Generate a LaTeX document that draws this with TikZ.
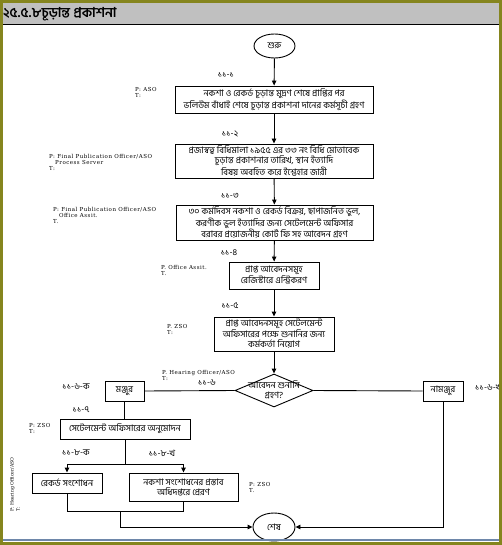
\documentclass[tikz,border=0pt]{standalone}
\usepackage{fontspec}
\usetikzlibrary{shapes.geometric,arrows.meta}
\newfontfamily\bn[Script=Bengali]{Hind Siliguri}
\newfontfamily\en[LetterSpace=9]{DejaVu Serif}
\newfontfamily\enr{DejaVu Serif}
\definecolor{olivebd}{RGB}{133,133,30}
\definecolor{hdrgray}{RGB}{192,192,192}
\definecolor{bluel}{RGB}{110,135,170}
\tikzset{
  box/.style={draw, line width=0.9pt, inner sep=0pt, align=center, font=\bn\fontsize{9}{10}\selectfont},
  dtext/.style={inner sep=0pt, align=center, font=\bn\fontsize{9}{10}\selectfont},
  term/.style={draw, ellipse, line width=0.9pt, inner sep=0pt, font=\bn\fontsize{9}{10}\selectfont},
  num/.style={inner sep=0pt, font=\bn\fontsize{8.8}{9}\selectfont},
  role/.style={inner sep=0pt, align=left, anchor=north west, font=\en\fontsize{5.5}{5.8}\selectfont},
  rrole/.style={inner sep=0pt, align=left, anchor=north west, font=\enr\fontsize{4.6}{6}\selectfont},
  flow/.style={line width=0.9pt},
  arr/.style={line width=0.9pt, -{Triangle[length=5pt,width=4.5pt]}}
}
\begin{document}
\begin{tikzpicture}[x=1pt,y=-1pt]
\useasboundingbox (0,0) rectangle (502,545);
\fill[white] (0,0) rectangle (502,545);
% header
\fill[hdrgray] (3,3) rectangle (499,25);
\draw[line width=1pt] (3,25) -- (499,25);
\node[anchor=west, inner sep=0pt, font=\bn\bfseries\fontsize{13.6}{15}\selectfont] (title) at (3,14) {২৫.৫.৮চূড়ান্ত প্রকাশনা};

% nodes
\node[term, minimum width=41pt, minimum height=24pt] (start) at (274.5,46) {শুরু};
\node[box, minimum width=198pt, minimum height=27pt] (b1) at (274,99.5) {নকশা ও রেকর্ড চূড়ান্ত মুদ্রণ শেষে প্রাপ্তির পর\\ভলিউম বাঁধাই শেষে চূড়ান্ত প্রকাশনা দানের কর্মসূচী গ্রহণ};
\node[box, minimum width=198pt, minimum height=34pt] (b2) at (274,161) {প্রজাস্বত্ব বিধিমালা ১৯৫৫ এর ৩৩ নং বিধি মোতাবেক\\চূড়ান্ত প্রকাশনার তারিখ, স্থান ইত্যাদি\\বিষয় অবহিত করে ইশ্তেহার জারী};
\node[box, minimum width=197pt, minimum height=35pt] (b3) at (274.5,222.5) {৩০ কর্মদিবস নকশা ও রেকর্ড বিক্রয়, ছাপাজনিত ভুল,\\করণীক ভুল ইত্যাদির জন্য সেটেলমেন্ট অফিসার\\বরাবর প্রয়োজনীয় কোর্ট ফি সহ আবেদন  গ্রহণ};
\node[box, minimum width=90pt, minimum height=27pt] (b4) at (274,275.5) {প্রাপ্ত আবেদনসমূহ\\রেজিস্টারে এন্ট্রিকরণ};
\node[box, minimum width=120pt, minimum height=34pt] (b5) at (274,334) {প্রাপ্ত আবেদনসমূহ সেটেলমেন্ট\\অফিসারের পক্ষে শুনানির জন্য\\কর্মকর্তা নিয়োগ};
\node[draw, diamond, line width=0.9pt, inner sep=0pt, minimum width=78pt, minimum height=33pt] (dia) at (274,390.5) {};
\node[dtext] (diat) at (274,390) {আবেদন শুনানি\\গ্রহণ?};
\node[box, minimum width=39pt, minimum height=20pt] (acc) at (124.5,391) {মঞ্জুর};
\node[box, minimum width=40pt, minimum height=20pt] (rej) at (443,391) {নামঞ্জুর};
\node[box, minimum width=130pt, minimum height=20pt] (b7) at (125,429) {সেটেলমেন্ট অফিসারের অনুমোদন};
\node[box, minimum width=70pt, minimum height=20pt] (b8a) at (67,483) {রেকর্ড সংশোধন};
\node[box, minimum width=109pt, minimum height=28pt] (b8b) at (183.5,487) {নকশা  সংশোধনের প্রস্তাব\\অধিদপ্তরে প্রেরণ};
\node[term, minimum width=42pt, minimum height=28pt] (end) at (274,527) {শেষ};

% step numbers
\node[num] (n1) at (226,75) {১১-১};
\node[num] (n2) at (230,134) {১১-২};
\node[num] (n3) at (230,196) {১১-৩};
\node[num] (n4) at (229,253) {১১-৪};
\node[num] (n5) at (230,306) {১১-৫};
\node[num] (n6) at (207,383) {১১-৬};
\node[num] (n6a) at (76,387) {১১-৬-ক};
\node[num, anchor=west] (n6b) at (475,387) {১১-৬-খ};
\node[num] (n7) at (81,410) {১১-৭};
\node[num] (n8a) at (76,453) {১১-৮-ক};
\node[num] (n8b) at (162,453) {১১-৮-খ};

% roles
\node[role] (r1) at (135,87.5) {P: ASO\\T:};
\node[role] (r2) at (49,154.5) {P: Final Publication Officer/ASO\\\hspace*{6pt}Process Server\\T:};
\node[role] (r3) at (53,207.5) {P: Final Publication Officer/ASO\\\hspace*{6pt}Office Assit.\\T.};
\node[role] (r4) at (161,265.5) {P. Office Assit.\\T.};
\node[role] (r5) at (167,324.5) {P. ZSO\\T:};
\node[role] (r6) at (162,370.5) {P. Hearing Officer/ASO\\T:};
\node[role] (r7) at (29,423.5) {P: ZSO\\T:};
\node[role] (r8) at (249,482.5) {P: ZSO\\T.};
\node[rrole, rotate=90] (r9) at (10,512) {P: Hearing Officer/ASO\\T:};

% connectors
\draw[arr] (start) -- (b1);
\draw[arr] (b1) -- (b2);
\draw[arr] (b2) -- (b3);
\draw[arr] (b3) -- (b4);
\draw[arr] (b4) -- (b5);
\draw[arr] (b5) -- (dia);
\draw[flow] (dia.west) -- (acc.east);
\draw[flow] (dia.east) -- (rej.west);
\draw[flow] (acc.south) -- (acc.south |- b7.north);
\coordinate (split) at (125,464);
\coordinate (splitL) at (67,464);
\coordinate (splitR) at (183.5,464);
\draw[flow] (b7.south -| split) -- (split);
\draw[flow] (splitL) -- (splitR);
\draw[arr] (splitL) -- (b8a.north);
\draw[arr] (splitR) -- (b8b.north);
\coordinate (jL) at (67,511);
\coordinate (jR) at (183.5,511);
\coordinate (jM) at (120,511);
\coordinate (jB) at (120,527);
\draw[flow] (b8a.south) -- (jL) -- (jR) -- (b8b.south);
\draw[arr] (jM) -- (jB) -- (end.west);
\coordinate (rB) at (443,527);
\draw[arr] (rej.south) -- (rB) -- (end.east);

% frame
\draw[bluel, line width=1.5pt] (3,540) -- (499,540);
\draw[olivebd, line width=3pt] (1.5,1.5) rectangle (500,543.5);
\fill[olivebd] (498.5,0) rectangle (502,545);
\end{tikzpicture}
\end{document}
